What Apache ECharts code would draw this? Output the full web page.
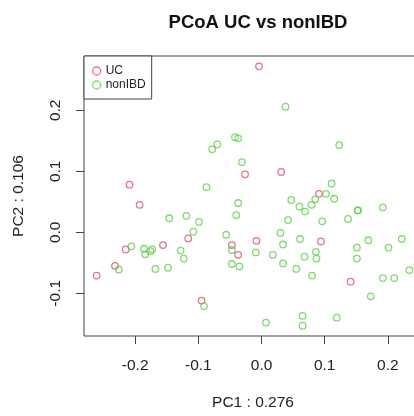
<!DOCTYPE html>
<html>
<head>
<meta charset="utf-8">
<script src="https://cdn.jsdelivr.net/npm/echarts@6/dist/echarts.min.js"></script>
<style>html,body{margin:0;padding:0;background:#fff}#c{width:414px;height:416px}</style>
</head>
<body>
<div id="c"></div>
<script>
var xTicks = [-0.2, -0.1, 0.0, 0.1, 0.2];
var yTicks = [-0.1, 0.0, 0.1, 0.2];
var ucPoints = [
  [-0.004, 0.272], [-0.026, 0.095], [0.031, 0.099], [0.091, 0.063], [-0.209, 0.078],
  [-0.193, 0.045], [-0.116, -0.010], [-0.215, -0.028], [-0.156, -0.021], [-0.232, -0.055],
  [-0.261, -0.071], [-0.095, -0.112], [-0.047, -0.021], [-0.037, -0.037], [-0.008, -0.014],
  [0.094, -0.015], [0.141, -0.081]
];
var nonIBDPoints = [
  [0.038, 0.206], [-0.042, 0.156], [-0.037, 0.154], [-0.070, 0.144], [-0.078, 0.136],
  [0.123, 0.143], [-0.031, 0.115], [-0.087, 0.074], [0.111, 0.080], [0.102, 0.063],
  [0.115, 0.055], [0.047, 0.053], [0.060, 0.042], [0.069, 0.034], [0.079, 0.045],
  [0.085, 0.054], [-0.037, 0.048], [-0.040, 0.028], [-0.099, 0.017], [0.042, 0.020],
  [0.096, 0.018], [0.137, 0.022], [0.152, 0.036], [0.153, 0.036], [0.192, 0.041],
  [-0.056, -0.004], [-0.047, -0.029], [-0.009, -0.033], [0.030, -0.001], [0.034, -0.020],
  [0.018, -0.037], [0.061, -0.011], [0.086, -0.032], [0.087, -0.043], [0.068, -0.040],
  [0.034, -0.051], [-0.047, -0.052], [-0.035, -0.056], [0.055, -0.060], [0.080, -0.071],
  [0.151, -0.025], [0.151, -0.043], [0.169, -0.013], [0.201, -0.025], [0.222, -0.011],
  [0.234, -0.062], [0.192, -0.075], [0.210, -0.075], [0.173, -0.105], [-0.091, -0.121],
  [0.007, -0.148], [0.065, -0.137], [0.065, -0.153], [0.119, -0.140], [-0.146, 0.023],
  [-0.119, 0.027], [-0.108, 0.001], [-0.206, -0.023], [-0.186, -0.027], [-0.184, -0.036],
  [-0.176, -0.031], [-0.173, -0.028], [-0.128, -0.030], [-0.123, -0.043], [-0.226, -0.061],
  [-0.168, -0.060], [-0.148, -0.058]
];
var RED = '#DF536B', GREEN = '#61D04F';
var FONT = 'Liberation Sans, Arial, Helvetica, sans-serif';
var chart = echarts.init(document.getElementById('c'), null, {renderer: 'canvas'});
chart.setOption({
  animation: false,
  backgroundColor: '#fff',
  title: {
    text: 'PCoA UC vs nonIBD', left: 253, top: 8, textAlign: 'center',
    textStyle: {fontFamily: FONT, fontSize: 18.5, fontWeight: 'bold', color: '#111'}
  },
  legend: {
    orient: 'vertical', left: 84, top: 56,
    padding: [9, 6, 8, 8], itemGap: 2, itemWidth: 8, itemHeight: 8,
    borderColor: '#444', borderWidth: 1, backgroundColor: '#fff',
    textStyle: {fontFamily: FONT, fontSize: 12, color: '#222', lineHeight: 12},
    data: [
      {name: 'UC', icon: 'circle', itemStyle: {color: 'transparent', borderColor: RED, borderWidth: 1.3}},
      {name: 'nonIBD', icon: 'circle', itemStyle: {color: 'transparent', borderColor: GREEN, borderWidth: 1.3}}
    ]
  },
  grid: {left: 84, top: 56, width: 338, height: 280, show: true, borderColor: '#444', borderWidth: 1,
    backgroundColor: 'transparent', outerBoundsMode: 'none', containLabel: false},
  xAxis: {
    type: 'value', min: -0.281, max: 0.254,
    name: 'PC1 : 0.276', nameLocation: 'middle', nameGap: 59,
    nameTextStyle: {fontFamily: FONT, fontSize: 15.5, color: '#222'},
    axisLine: {show: false, onZero: false},
    axisTick: {show: true, length: 8, customValues: xTicks, lineStyle: {color: '#444', width: 1}},
    axisLabel: {customValues: xTicks, margin: 22, fontFamily: FONT, fontSize: 15.5, color: '#222',
      formatter: function (v) { return v.toFixed(1); }},
    splitLine: {show: false}
  },
  yAxis: {
    type: 'value', min: -0.170, max: 0.289,
    name: 'PC2 : 0.106', nameLocation: 'middle', nameGap: 57, nameRotate: 90,
    nameTextStyle: {fontFamily: FONT, fontSize: 15.5, color: '#222'},
    axisLine: {show: false, onZero: false},
    axisTick: {show: true, length: 8, customValues: yTicks, lineStyle: {color: '#444', width: 1}},
    axisLabel: {customValues: yTicks, margin: 20, rotate: 90, fontFamily: FONT, fontSize: 15.5, color: '#222',
      formatter: function (v) { return v.toFixed(1); }},
    splitLine: {show: false}
  },
  series: [
    {name: 'UC', type: 'scatter', data: ucPoints, symbol: 'circle', symbolSize: 6.5,
      itemStyle: {color: 'transparent', borderColor: RED, borderWidth: 1.3}},
    {name: 'nonIBD', type: 'scatter', data: nonIBDPoints, symbol: 'circle', symbolSize: 6.5,
      itemStyle: {color: 'transparent', borderColor: GREEN, borderWidth: 1.3}}
  ]
});
</script>
</body>
</html>
